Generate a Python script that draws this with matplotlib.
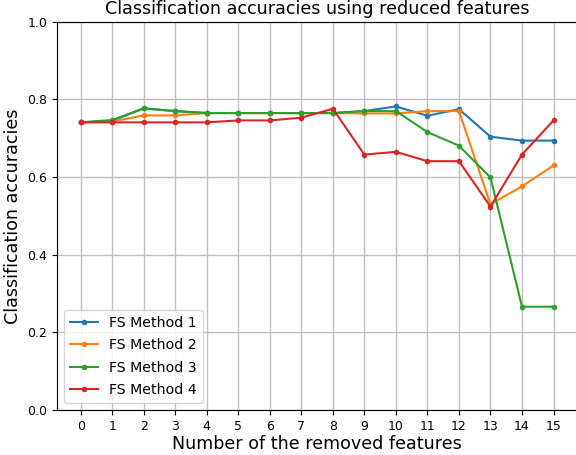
import matplotlib
matplotlib.use("Agg")
import matplotlib.pyplot as plt

x = list(range(16))
method1 = [0.741, 0.745, 0.777, 0.770, 0.765, 0.765, 0.765, 0.765, 0.765, 0.770, 0.782, 0.758, 0.775, 0.704, 0.694, 0.694]
method2 = [0.741, 0.743, 0.759, 0.759, 0.765, 0.765, 0.765, 0.765, 0.765, 0.764, 0.764, 0.770, 0.770, 0.530, 0.576, 0.630]
method3 = [0.741, 0.747, 0.777, 0.770, 0.765, 0.765, 0.765, 0.765, 0.765, 0.770, 0.770, 0.716, 0.681, 0.599, 0.266, 0.266]
method4 = [0.741, 0.741, 0.741, 0.741, 0.741, 0.746, 0.746, 0.753, 0.776, 0.658, 0.665, 0.641, 0.641, 0.524, 0.658, 0.746]
labels = ["FS Method 1", "FS Method 2", "FS Method 3", "FS Method 4"]

fig = plt.figure(figsize=(5.76, 4.55), dpi=100)
ax = fig.add_axes([0.099, 0.099, 0.903, 0.853])
for ys, lab in zip([method1, method2, method3, method4], labels):
    ax.plot(x, ys, marker='.', markersize=6, linewidth=1.5, label=lab)
ax.set_ylim(0, 1.0)
ax.set_xticks(x)
ax.grid(True, color='#c0c0c0', linewidth=1.0)
ax.set_axisbelow(True)
ax.tick_params(labelsize=9)
ax.set_title("Classification accuracies using reduced features", fontsize=12.6)
ax.set_xlabel("Number of the removed features", fontsize=12.6, labelpad=2)
ax.set_ylabel("Classification accuracies", fontsize=12.6)
ax.legend(loc='lower left', fontsize=10.2, labelspacing=0.6)
fig.savefig("out.png", dpi=100)
